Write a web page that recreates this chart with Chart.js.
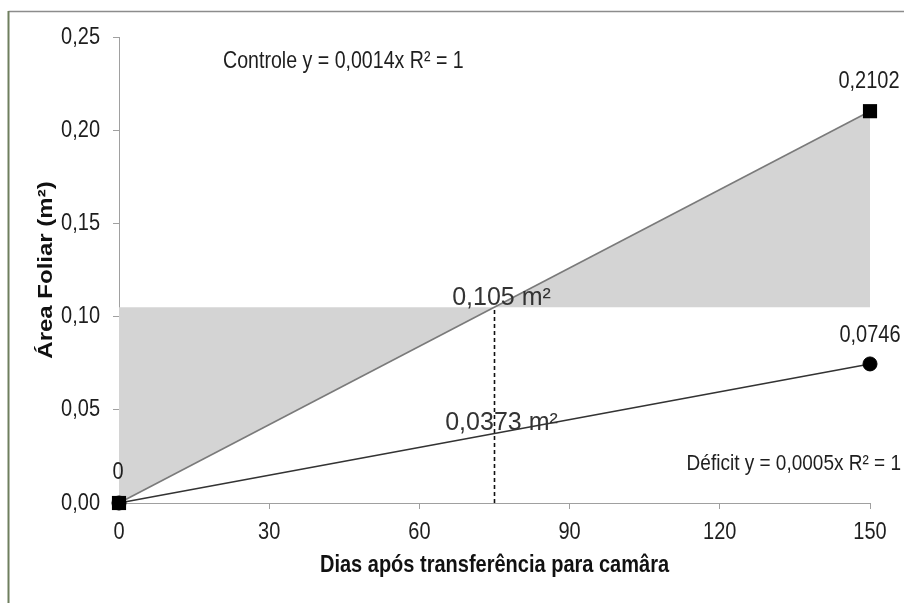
<!DOCTYPE html>
<html>
<head>
<meta charset="utf-8">
<script src="https://cdn.jsdelivr.net/npm/chart.js@4/dist/chart.umd.min.js"></script>
<style>
  html, body { margin: 0; padding: 0; background: #ffffff; }
  #wrap { width: 904px; height: 603px; position: relative; }
</style>
</head>
<body>
<div id="wrap"><canvas id="c" width="904" height="603"></canvas></div>
<script>
// Days after transfer to the chamber and measured leaf area (m²)
const dias = [0, 150];
const controle = [0, 0.2102];
const deficit = [0, 0.0746];

// Mid-point reading at day 75
const diaMeio = 75;
const controleMeio = 0.105;
const deficitMeio = 0.0373;

// Axis ticks
const xTicks = [0, 30, 60, 90, 120, 150];
const yTicks = [0, 0.05, 0.10, 0.15, 0.20, 0.25];

// Trend line equations
const eqControle = 'Controle y = 0,0014x R² = 1';
const eqDeficit = 'Déficit y = 0,0005x R² = 1';

const FONT = '"Liberation Sans", Arial, sans-serif';
const fmt = (v, d) => v.toFixed(d).replace('.', ',');
const fmtLabel = v => (v === 0 ? '0' : String(v).replace('.', ','));

const pts = arr => dias.map((d, i) => ({ x: d, y: arr[i] }));

// Text on this chart uses a tall, narrow letterform: stretch glyphs vertically
// (in screen space) around their anchor point.
const canvas = document.getElementById('c');
const ctx2d = canvas.getContext('2d');
const baseFillText = CanvasRenderingContext2D.prototype.fillText;
let textStretch = 1.2;
ctx2d.fillText = function (text, x, y, maxWidth) {
  if (textStretch === 1) {
    return maxWidth === undefined ? baseFillText.call(this, text, x, y) : baseFillText.call(this, text, x, y, maxWidth);
  }
  const m = this.getTransform();
  const p = m.transformPoint(new DOMPoint(x, y));
  this.save();
  this.setTransform(new DOMMatrix().translate(p.x, p.y).scale(1, textStretch).translate(-p.x, -p.y).multiply(m));
  if (maxWidth === undefined) baseFillText.call(this, text, x, y);
  else baseFillText.call(this, text, x, y, maxWidth);
  this.restore();
};

// Shaded areas between the control line and the mid-point level, plus dashed marker
const shadePlugin = {
  id: 'shade',
  beforeDatasetsDraw(chart) {
    const { ctx, scales: { x, y } } = chart;
    const x0 = x.getPixelForValue(dias[0]);
    const x1 = x.getPixelForValue(dias[dias.length - 1]);
    const xm = x.getPixelForValue(diaMeio);
    const y0 = y.getPixelForValue(controle[0]);
    const ym = y.getPixelForValue(controleMeio);
    const y1 = y.getPixelForValue(controle[controle.length - 1]);
    ctx.save();
    ctx.fillStyle = '#d4d4d4';
    ctx.beginPath();
    ctx.moveTo(x0, y0);
    ctx.lineTo(x0, ym);
    ctx.lineTo(xm, ym);
    ctx.closePath();
    ctx.fill();
    ctx.beginPath();
    ctx.moveTo(xm, ym);
    ctx.lineTo(x1, ym);
    ctx.lineTo(x1, y1);
    ctx.closePath();
    ctx.fill();
    // dashed vertical line at day 75
    ctx.strokeStyle = '#111';
    ctx.lineWidth = 1.6;
    ctx.setLineDash([4, 3]);
    ctx.beginPath();
    ctx.moveTo(xm, y.getPixelForValue(0));
    ctx.lineTo(xm, ym);
    ctx.stroke();
    ctx.restore();
  },
  afterDatasetsDraw(chart) {
    const { ctx, scales: { x, y } } = chart;
    ctx.save();
    ctx.fillStyle = '#1e1e1e';
    ctx.textAlign = 'center';
    ctx.textBaseline = 'middle';
    ctx.font = '20px ' + FONT;
    // value labels above the end points
    const last = dias.length - 1;
    ctx.fillText(fmtLabel(controle[0]), x.getPixelForValue(dias[0]) - 1, y.getPixelForValue(controle[0]) - 31);
    ctx.fillText(fmtLabel(controle[last]), x.getPixelForValue(dias[last]) - 1, y.getPixelForValue(controle[last]) - 30);
    ctx.fillText(fmtLabel(deficit[last]), x.getPixelForValue(dias[last]), y.getPixelForValue(deficit[last]) - 29);

    // trend line equations
    ctx.textAlign = 'left';
    ctx.font = '19.6px ' + FONT;
    ctx.fillText(eqControle, 223, 62);
    ctx.textAlign = 'right';
    ctx.font = '19px ' + FONT;
    ctx.fillText(eqDeficit, 901, 464);

    // mid-point labels (regular proportions)
    textStretch = 1;
    ctx.fillStyle = '#333';
    ctx.font = '25px ' + FONT;
    ctx.textAlign = 'center';
    ctx.textBaseline = 'alphabetic';
    const xm = x.getPixelForValue(diaMeio) + 7;
    ctx.fillText(fmt(controleMeio, 3) + ' m²', xm, y.getPixelForValue(controleMeio) - 2);
    ctx.fillText(fmt(deficitMeio, 4) + ' m²', xm, y.getPixelForValue(deficitMeio) - 3);
    textStretch = 1.2;
    ctx.restore();
  },
  beforeDraw(chart) {
    const { ctx } = chart;
    ctx.save();
    ctx.fillStyle = '#ffffff';
    ctx.fillRect(0, 0, chart.width, chart.height);
    // outer frame
    ctx.strokeStyle = '#8c8c8c';
    ctx.lineWidth = 1.5;
    ctx.beginPath();
    ctx.moveTo(904, 11.5);
    ctx.lineTo(8.5, 11.5);
    ctx.stroke();
    ctx.strokeStyle = '#6f7f5e';
    ctx.lineWidth = 2;
    ctx.beginPath();
    ctx.moveTo(8.5, 11);
    ctx.lineTo(8.5, 603);
    ctx.stroke();
    ctx.restore();
  }
};

new Chart(canvas, {
  type: 'scatter',
  data: {
    datasets: [
      {
        label: 'Controle',
        data: pts(controle),
        showLine: true,
        borderColor: '#7a7a7a',
        borderWidth: 1.6,
        pointStyle: 'rect',
        pointRadius: 10,
        pointBackgroundColor: '#000',
        pointBorderColor: '#000',
        pointBorderWidth: 0,
        clip: false
      },
      {
        label: 'Déficit',
        data: pts(deficit),
        showLine: true,
        borderColor: '#333',
        borderWidth: 1.6,
        pointStyle: 'circle',
        pointRadius: 7,
        pointBackgroundColor: '#000',
        pointBorderColor: '#000',
        pointBorderWidth: 1,
        clip: false
      }
    ]
  },
  options: {
    responsive: false,
    animation: false,
    devicePixelRatio: 1,
    layout: { padding: { top: 37, right: 34, left: 0, bottom: 0 } },
    plugins: { legend: { display: false }, tooltip: { enabled: false } },
    scales: {
      x: {
        type: 'linear',
        min: xTicks[0],
        max: xTicks[xTicks.length - 1],
        afterFit: s => { s.height = 100; },
        afterBuildTicks: s => { s.ticks = xTicks.map(v => ({ value: v })); },
        grid: { drawOnChartArea: false, drawTicks: true, tickLength: 6, color: '#a0a0a0' },
        border: { display: true, color: '#a0a0a0', width: 1 },
        ticks: { color: '#1e1e1e', font: { family: FONT, size: 20 }, padding: 11, maxRotation: 0 },
        title: {
          display: true,
          text: 'Dias após transferência para camâra',
          color: '#111',
          font: { family: FONT, size: 20, weight: 'bold' },
          padding: { top: 0, bottom: 26 }
        }
      },
      y: {
        type: 'linear',
        min: yTicks[0],
        max: yTicks[yTicks.length - 1],
        afterFit: s => { s.width = 119; },
        afterBuildTicks: s => { s.ticks = yTicks.map(v => ({ value: v })); },
        grid: { drawOnChartArea: false, drawTicks: true, tickLength: 6, color: '#a0a0a0' },
        border: { display: true, color: '#a0a0a0', width: 1 },
        ticks: { color: '#1e1e1e', font: { family: FONT, size: 20 }, padding: 13, callback: v => fmt(v, 2) },
        title: {
          display: true,
          text: 'Área Foliar (m²)',
          color: '#111',
          font: { family: FONT, size: 20, weight: 'bold' },
          padding: { top: 34, bottom: 0 }
        }
      }
    }
  },
  plugins: [shadePlugin]
});
</script>
</body>
</html>
